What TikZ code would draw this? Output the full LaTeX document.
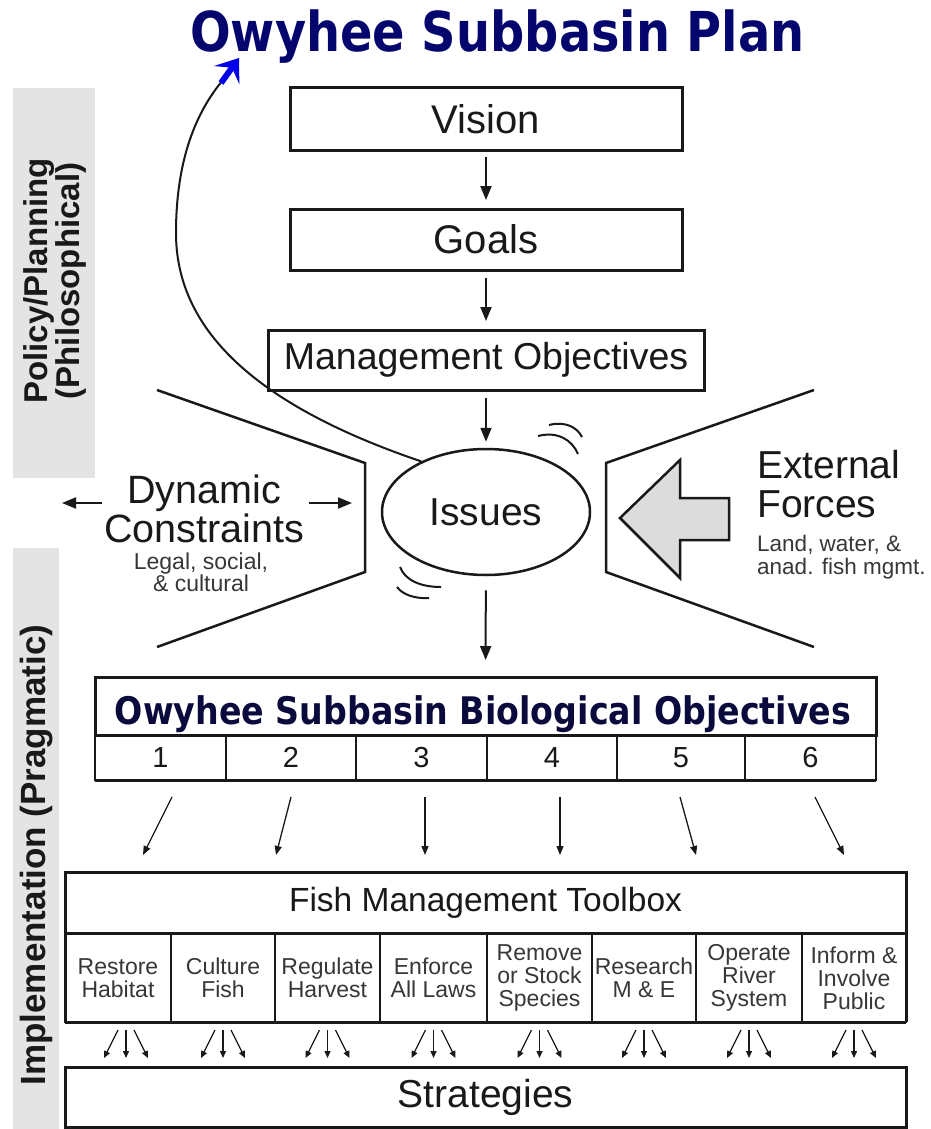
\documentclass[tikz,border=0pt]{standalone}
\usepackage{fontspec}
\setmainfont{Liberation Sans}
\newfontfamily\dv{DejaVu Sans}
\usetikzlibrary{arrows.meta,shapes.geometric}
\definecolor{navy}{RGB}{5,5,110}
\definecolor{darknavy}{RGB}{10,10,60}
\definecolor{bandgray}{RGB}{228,228,228}
\definecolor{arrowgray}{RGB}{220,220,220}
\definecolor{subgray}{RGB}{55,55,55}
\definecolor{ink}{RGB}{25,25,25}
\definecolor{blueink}{RGB}{0,0,235}
\tikzset{
  fs/.style={font=\fontsize{#1}{#1}\selectfont},
  bigbox/.style={draw=ink, line width=3pt, inner sep=0pt, outer sep=0pt, text=ink},
  cellbox/.style={draw=ink, line width=2pt, inner sep=0pt, outer sep=0pt},
  arr/.style={draw=ink, line width=2pt, -{Triangle[length=14pt,width=11pt]}},
  sarr/.style={draw=ink, line width=1.3pt, -{Triangle[length=9pt,width=7pt]}},
  tarr/.style={draw=ink, line width=1.3pt, -{Triangle[length=7pt,width=6pt]}},
  funnel/.style={draw=ink, line width=2.5pt, line join=miter},
  toolt/.style={text=subgray, align=center, font=\fontsize{23}{23}\selectfont},
}
\begin{document}
\begin{tikzpicture}[x=1pt,y=-1pt]
\useasboundingbox (0,0) rectangle (931,1129);
\fill[white] (0,0) rectangle (931,1129);

% side bands
\fill[bandgray] (13,88) rectangle (95,478);
\fill[bandgray] (13,548) rectangle (59,1129);
\node[rotate=90, align=center, font=\fontsize{33}{32}\selectfont\bfseries, text=ink] (bandtop) at (55,281) {Policy/Planning\\(Philosophical)};
\node[rotate=90, font=\fontsize{35}{35}\selectfont\bfseries, text=ink] (bandlow) at (37,855) {Implementation (Pragmatic)};

% title
\node[anchor=base, font=\dv\fontsize{55}{55}\selectfont\bfseries, text=navy, inner sep=0pt] (title) at (497.5,52) {\scalebox{0.87}[1]{Owyhee Subbasin Plan}};

% top boxes
\node[bigbox, minimum width=392pt, minimum height=62pt, fs=40] (vision) at (486,119) {Vision};
\node[bigbox, minimum width=392pt, minimum height=61pt, fs=40] (goals) at (486,239.5) {Goals};
\node[bigbox, minimum width=436pt, minimum height=60pt, fs=37.5] (mo) at (486,360) {Management Objectives};

\draw[arr, shorten <=7pt, shorten >=9pt] (vision) -- (goals);
\draw[arr, shorten <=8pt, shorten >=9pt] (goals) -- (mo);

% issues
\node[draw=ink, line width=2.5pt, ellipse, minimum width=208pt, minimum height=126pt, inner sep=0pt, fs=39, text=ink] (issues) at (486,512) {Issues};
\draw[arr, shorten <=8pt, shorten >=6pt] (mo) -- (issues);

% motion marks
\draw[ink, line width=2pt] (538,436) .. controls (558,431) and (572,440) .. (578,454);
\draw[ink, line width=2pt] (549,425) .. controls (565,421) and (577,427) .. (582,437);
\draw[ink, line width=2pt] (400,567) .. controls (405,580) and (420,587) .. (441,587);
\draw[ink, line width=2pt] (397,587) .. controls (402,594) and (414,599) .. (429,598);

% funnels
\draw[funnel] (157,390) -- (365,463) -- (365,572) -- (157,647);
\draw[funnel] (814,390) -- (606,463) -- (606,572) -- (814,647);

% curve to title
\coordinate (curvetop) at (223,80);
\coordinate (tip) at (239,58);
\draw[ink, line width=2pt] (issues.142) .. controls (240,400) and (176,320) .. (176,233) .. controls (176,160) and (196,112) .. (curvetop);
\draw[blueink, line width=6pt, -{Stealth[length=21pt,width=31pt,inset=9pt]}] ([shift={(-2,3)}]curvetop) -- (tip);

% dynamic constraints
\node[align=center, fs=39.5, text=ink, inner sep=0pt] (dyn) at (204,509) {Dynamic\\[0pt]Constraints};
\node[align=center, text=subgray, font=\fontsize{23}{21}\selectfont, inner sep=0pt] (dynsub) at (201,572) {Legal, social,\\\& cultural};
\coordinate (dl) at (62,503);
\coordinate (dr) at (352,503);
\draw[arr, shorten <=2pt] (dyn.west |- dl) -- (dl);
\draw[arr, shorten <=5pt] (dyn.east |- dr) -- (dr);

% external forces
\node[anchor=west, align=left, fs=39, text=ink, inner sep=0pt] (ext) at (757,484) {External\\[0pt]Forces};
\node[anchor=west, align=left, text=subgray, font=\fontsize{22.5}{23}\selectfont, inner sep=0pt] (extsub) at (757,557) {Land, water, \&\\anad. fish mgmt.};
\draw[ink, line width=2.5pt, fill=arrowgray, line join=miter] (620,518) -- (680,460) -- (680,498) -- (729,498) -- (729,540) -- (680,540) -- (680,578) -- cycle;

% biological objectives
\node[bigbox, minimum width=781pt, minimum height=58pt] (bio) at (485.5,706) {};
\node[anchor=base, font=\dv\fontsize{38}{38}\selectfont\bfseries, text=darknavy, inner sep=0pt] (biot) at (483,724) {\scalebox{0.875}[1]{Owyhee Subbasin Biological Objectives}};
\foreach \i/\a/\b in {1/95/226, 2/226/356, 3/356/487, 4/487/617, 5/617/745, 6/745/876}{
  \node[cellbox, minimum width={(\b-\a)*1pt}, minimum height=45pt, fs=29, text=ink] (n\i) at ({(\a+\b)/2},757.5) {\i};
}
\draw[ink, line width=3pt] (n1.north west) -- (n6.north east);
\draw[ink, line width=3pt] (n1.south west) -- (n6.south east);

% number arrows
\draw[sarr] ([shift={(11.5,17)}]n1.south) -- ([shift={(-17.5,75)}]n1.south);
\draw[sarr] ([shift={(0,17)}]n2.south) -- ([shift={(-15,75)}]n2.south);
\draw[sarr] ([shift={(3.5,17)}]n3.south) -- ([shift={(3.5,75)}]n3.south);
\draw[sarr] ([shift={(8,17)}]n4.south) -- ([shift={(8,75)}]n4.south);
\draw[sarr] ([shift={(-1,17)}]n5.south) -- ([shift={(15,75)}]n5.south);
\draw[sarr] ([shift={(4.5,17)}]n6.south) -- ([shift={(33.5,75)}]n6.south);

% toolbox
\node[bigbox, minimum width=841pt, minimum height=61pt, fs=33.5] (tb) at (485.5,902.5) {Fish Management Toolbox};
\foreach \i/\a/\b/\t in {1/65/171/{Restore\\Habitat}, 2/171/275/{Culture\\Fish}, 3/275/380/{Regulate\\Harvest}, 4/380/487/{Enforce\\All Laws}, 5/487/592/{Remove\\or Stock\\Species}, 6/592/696/{Research\\M \& E}, 7/696/802/{Operate\\River\\System}, 8/802/906/{Inform \&\\Involve\\Public}}{
  \node[cellbox, minimum width={(\b-\a)*1pt}, minimum height=89pt] (t\i) at ({(\a+\b)/2},977.5) {};
  \node[toolt, inner sep=0pt] (tt\i) at ({(\a+\b)/2},978) {\t};
}
\draw[ink, line width=3pt] (t1.north west) -- (t8.north east);
\draw[ink, line width=3pt] (t1.south west) -- (t8.south east);
\draw[ink, line width=3pt] (t1.north west) -- (t1.south west);
\draw[ink, line width=3pt] (t8.north east) -- (t8.south east);

% strategies
\node[bigbox, minimum width=841pt, minimum height=60pt, fs=39] (strat) at (485.5,1097) {Strategies};

\foreach \i/\m in {1/126, 2/223, 3/327.5, 4/433.5, 5/539.5, 6/644, 7/749, 8/854}{
  \coordinate (m\i) at (\m,1022);
  \draw[tarr] ([shift={(-8,8)}]m\i) -- ([shift={(-22,36)}]m\i);
  \draw[tarr] ([shift={(0,8)}]m\i) -- ([shift={(0,36)}]m\i);
  \draw[tarr] ([shift={(8,8)}]m\i) -- ([shift={(22,36)}]m\i);
}

\draw[arr, shorten <=14pt, shorten >=17pt] (issues) -- (bio);
\end{tikzpicture}
\end{document}
